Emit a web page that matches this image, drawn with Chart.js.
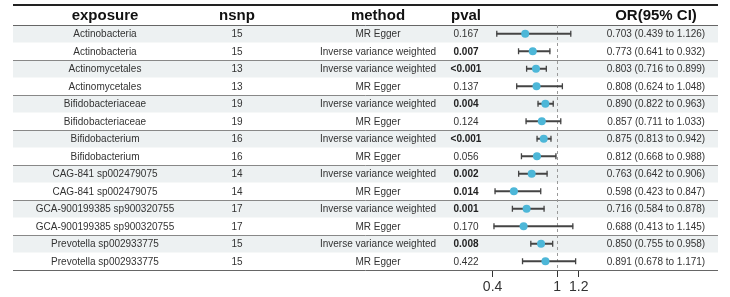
<!DOCTYPE html>
<html>
<head>
<meta charset="utf-8">
<script src="https://cdn.jsdelivr.net/npm/chart.js@4/dist/chart.umd.min.js"></script>
<style>
  body { margin: 0; background: #fff; }
  canvas { display: block; }
</style>
</head>
<body>
<canvas id="forest" width="730" height="297"></canvas>
<script>
// Table data
const exposure = ['Actinobacteria', 'Actinobacteria', 'Actinomycetales', 'Actinomycetales',
    'Bifidobacteriaceae', 'Bifidobacteriaceae', 'Bifidobacterium', 'Bifidobacterium',
    'CAG-841 sp002479075', 'CAG-841 sp002479075', 'GCA-900199385 sp900320755',
    'GCA-900199385 sp900320755', 'Prevotella sp002933775', 'Prevotella sp002933775'];
const nsnp = [15, 15, 13, 13, 19, 19, 16, 16, 14, 14, 17, 17, 15, 15];
const method = ['MR Egger', 'Inverse variance weighted', 'Inverse variance weighted', 'MR Egger',
    'Inverse variance weighted', 'MR Egger', 'Inverse variance weighted', 'MR Egger',
    'Inverse variance weighted', 'MR Egger', 'Inverse variance weighted', 'MR Egger',
    'Inverse variance weighted', 'MR Egger'];
const pval = ['0.167', '0.007', '<0.001', '0.137', '0.004', '0.124', '<0.001',
    '0.056', '0.002', '0.014', '0.001', '0.170', '0.008', '0.422'];
const orVal = [0.703, 0.773, 0.803, 0.808, 0.890, 0.857, 0.875, 0.812, 0.763, 0.598, 0.716, 0.688, 0.850, 0.891];
const ciLow = [0.439, 0.641, 0.716, 0.624, 0.822, 0.711, 0.813, 0.668, 0.642, 0.423, 0.584, 0.413, 0.755, 0.678];
const ciHigh = [1.126, 0.932, 0.899, 1.048, 0.963, 1.033, 0.942, 0.988, 0.906, 0.847, 0.878, 1.145, 0.958, 1.171];
const xTicks = [0.4, 1, 1.2];
const headers = ['exposure', 'nsnp', 'method', 'pval', 'OR(95% CI)'];

const FONT = '"Liberation Sans", Arial, sans-serif';
const colX = [105, 237, 378, 466, 656];
const tableLeft = 13, tableRight = 718;

const rows = exposure.map((e, i) => i + 1);

// draws the table around the plot
const tablePlugin = {
    id: 'table',
    beforeDatasetsDraw(chart) {
        const ctx = chart.ctx;
        const y = chart.scales.y, x = chart.scales.x;
        const area = chart.chartArea;
        const h = y.getPixelForValue(2) - y.getPixelForValue(1);
        ctx.save();
        // row shading
        ctx.fillStyle = '#edf1f2';
        rows.forEach((r, i) => {
            if (i % 2 === 0) {
                const c = y.getPixelForValue(r);
                ctx.fillRect(tableLeft, c - h / 2, tableRight - tableLeft, h);
            }
        });
        // lines
        ctx.strokeStyle = '#222';
        ctx.lineWidth = 2;
        ctx.beginPath();
        ctx.moveTo(tableLeft, 5);
        ctx.lineTo(tableRight, 5);
        ctx.stroke();
        ctx.lineWidth = 1;
        ctx.strokeStyle = '#666';
        const hline = (yy) => {
            ctx.beginPath();
            ctx.moveTo(tableLeft, Math.round(yy) + 0.5);
            ctx.lineTo(tableRight, Math.round(yy) + 0.5);
            ctx.stroke();
        };
        hline(area.top);
        ctx.strokeStyle = '#888';
        rows.forEach((r, i) => {
            if (i % 2 === 1 && i < rows.length - 1) hline(y.getPixelForValue(r) + h / 2);
        });
        ctx.strokeStyle = '#666';
        hline(area.bottom);
        // reference line at OR = 1
        const x1 = Math.round(x.getPixelForValue(1)) + 0.5;
        ctx.strokeStyle = '#999';
        ctx.setLineDash([3, 3]);
        ctx.beginPath();
        ctx.moveTo(x1, area.top);
        ctx.lineTo(x1, area.bottom);
        ctx.stroke();
        ctx.restore();
    },
    afterDraw(chart) {
        const ctx = chart.ctx;
        const y = chart.scales.y;
        ctx.save();
        ctx.textAlign = 'center';
        ctx.textBaseline = 'middle';
        ctx.fillStyle = '#111';
        ctx.font = 'bold 15px ' + FONT;
        headers.forEach((t, j) => ctx.fillText(t, colX[j], 16));
        rows.forEach((r, i) => {
            const c = y.getPixelForValue(r) + 0.5;
            ctx.fillStyle = '#333';
            ctx.font = '10px ' + FONT;
            ctx.fillText(exposure[i], colX[0], c);
            ctx.fillText(String(nsnp[i]), colX[1], c);
            ctx.fillText(method[i], colX[2], c);
            ctx.fillText(orVal[i].toFixed(3) + ' (' + ciLow[i].toFixed(3) + ' to ' + ciHigh[i].toFixed(3) + ')', colX[4], c);
            const p = pval[i].startsWith('<') ? 0 : parseFloat(pval[i]);
            if (p < 0.05) {
                ctx.font = 'bold 10px ' + FONT;
                ctx.fillStyle = '#222';
            }
            ctx.fillText(pval[i], colX[3], c);
        });
        ctx.restore();
    }
};

const caps = [];
rows.forEach((r, i) => {
    caps.push({ x: ciLow[i], y: r });
    caps.push({ x: ciHigh[i], y: r });
});

new Chart(document.getElementById('forest'), {
    type: 'scatter',
    data: {
        datasets: [
            {
                type: 'scatter',
                data: orVal.map((v, i) => ({ x: v, y: rows[i] })),
                pointRadius: 4,
                pointHoverRadius: 4,
                backgroundColor: '#4db7d8',
                borderWidth: 0,
                order: 0
            },
            {
                type: 'scatter',
                data: caps,
                pointStyle: 'line',
                rotation: 90,
                pointRadius: 3,
                borderColor: '#444',
                borderWidth: 1.3,
                order: 1
            },
            {
                type: 'bar',
                indexAxis: 'y',
                data: ciLow.map((l, i) => ({ x: [l, ciHigh[i]], y: rows[i] })),
                backgroundColor: '#444',
                barThickness: 1.4,
                order: 2
            }
        ]
    },
    options: {
        responsive: false,
        devicePixelRatio: 1,
        animation: false,
        layout: { padding: { top: 25, left: 481.8, right: 129.7, bottom: 0 } },
        plugins: {
            legend: { display: false },
            tooltip: { enabled: false }
        },
        scales: {
            x: {
                type: 'linear',
                min: 0.3,
                max: 1.4,
                offset: false,
                afterBuildTicks: (s) => { s.ticks = xTicks.map(v => ({ value: v })); },
                afterFit: (s) => { s.height = 27; },
                grid: { drawOnChartArea: false, drawTicks: true, tickLength: 7, color: '#333', offset: false },
                border: { display: false },
                ticks: {
                    color: '#333',
                    padding: 2,
                    font: { size: 14, family: FONT },
                    callback: (v) => String(v)
                }
            },
            y: {
                type: 'linear',
                min: 0.5,
                max: 14.5,
                reverse: true,
                offset: false,
                display: false
            }
        }
    },
    plugins: [tablePlugin]
});
</script>
</body>
</html>
